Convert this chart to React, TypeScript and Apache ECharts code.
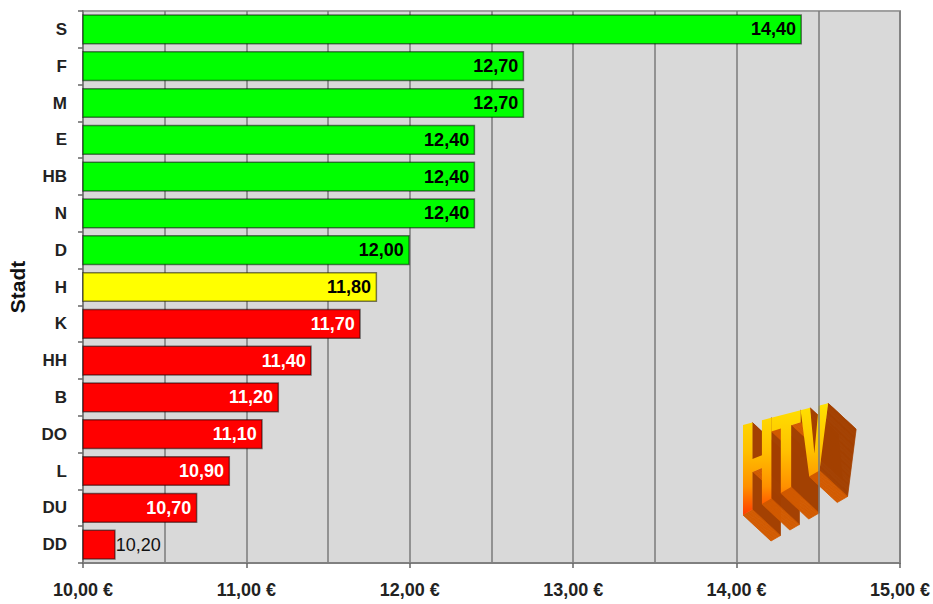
import React, { useEffect, useRef } from "react";
import * as echarts from "echarts";

const cities = ["S", "F", "M", "E", "HB", "N", "D", "H", "K", "HH", "B", "DO", "L", "DU", "DD"];
const prices = [14.4, 12.7, 12.7, 12.4, 12.4, 12.4, 12.0, 11.8, 11.7, 11.4, 11.2, 11.1, 10.9, 10.7, 10.2];
const groups = ["g", "g", "g", "g", "g", "g", "g", "y", "r", "r", "r", "r", "r", "r", "r"];
const axisMin = 10;
const axisMax = 15;
const axisStep = 1;

const fill: Record<string, string> = { g: "#00ff00", y: "#ffff00", r: "#ff0000" };
const labelColor: Record<string, string> = { g: "#000000", y: "#000000", r: "#ffffff" };
const FONT = "'Liberation Sans', Arial, sans-serif";

const fmt = (v: number) => v.toFixed(2).replace(".", ",");

// Logo letter outlines in a local (u: 0..100 across, v: 0..1 top->bottom) space
const letterH: number[][] = [[0, 0], [11, 0], [11, 0.42], [22, 0.42], [22, 0], [33, 0], [33, 1], [22, 1], [22, 0.57], [11, 0.57], [11, 1], [0, 1]];
const letterT: number[][] = [[33, 0], [67, 0], [67, 0.17], [56, 0.17], [56, 1], [44, 1], [44, 0.17], [33, 0.17]];
const letterV: number[][] = [[67, 0], [78, 0], [83, 0.7], [88, 0], [99, 0], [89, 1], [77, 1]];

function mapPt(u: number, v: number): number[] {
  const x = 743 + u * 0.86;
  const top = 425 - u * 0.22;
  const bottom = 515 - u * 0.5;
  return [x, top + v * (bottom - top)];
}

function buildLogo(): any[] {
  const off = [28, 26];
  const N = 28;
  const grad = new echarts.graphic.LinearGradient(
    0, 398, 0, 516,
    [
      { offset: 0, color: "#ffe600" },
      { offset: 0.45, color: "#ffc000" },
      { offset: 0.75, color: "#ff9000" },
      { offset: 1, color: "#ff3a00" },
    ],
    true
  );
  const letters = [letterH, letterT, letterV].map((poly) => poly.map(([u, v]) => mapPt(u, v)));
  // visible edges with their shade
  const edges: { a: number[]; b: number[]; color: string }[] = [];
  letters.forEach((pts) => {
    let area = 0;
    for (let i = 0; i < pts.length; i++) {
      const a = pts[i];
      const b = pts[(i + 1) % pts.length];
      area += a[0] * b[1] - b[0] * a[1];
    }
    const sgn = area > 0 ? 1 : -1;
    for (let i = 0; i < pts.length; i++) {
      const a = pts[i];
      const b = pts[(i + 1) % pts.length];
      const ex = b[0] - a[0];
      const ey = b[1] - a[1];
      let nx = ey * sgn;
      let ny = -ex * sgn;
      const len = Math.hypot(nx, ny) || 1;
      nx /= len;
      ny /= len;
      if (nx * off[0] + ny * off[1] <= 0) continue;
      const color = Math.abs(ny) > Math.abs(nx) ? "#d25a00" : "#a34000";
      edges.push({ a, b, color });
    }
  });
  const out: any[] = [];
  for (let k = N - 1; k >= 0; k--) {
    const d0 = k / N;
    const d1 = (k + 1) / N;
    edges.forEach(({ a, b, color }) => {
      out.push({
        type: "polygon",
        silent: true,
        shape: {
          points: [
            [a[0] + off[0] * d0, a[1] + off[1] * d0],
            [b[0] + off[0] * d0, b[1] + off[1] * d0],
            [b[0] + off[0] * d1, b[1] + off[1] * d1],
            [a[0] + off[0] * d1, a[1] + off[1] * d1],
          ],
        },
        style: { fill: color, stroke: color, lineWidth: 0.8 },
      });
    });
  }
  letters.forEach((pts) => {
    out.push({ type: "polygon", silent: true, shape: { points: pts }, style: { fill: grad } });
  });
  return out;
}

export default function App() {
  const ref = useRef<HTMLDivElement>(null);
  useEffect(() => {
    if (!ref.current) return;
    const chart = echarts.init(ref.current, null, { renderer: "svg" });

    const data = prices.map((v, i) => {
      const small = v - axisMin < 0.4;
      return {
        value: v,
        itemStyle: { color: fill[groups[i]] },
        label: small
          ? { position: "right", distance: 0, color: "#111", fontWeight: "normal" }
          : { position: "insideRight", distance: 6, color: labelColor[groups[i]], fontWeight: "bold" },
      };
    });

    chart.setOption({
      animation: false,
      grid: {
        left: 83,
        right: 33,
        top: 11,
        bottom: 41,
        outerBoundsMode: "none",
        containLabel: false,
        show: true,
        backgroundColor: "#d9d9d9",
        borderColor: "#a0a0a0",
        borderWidth: 2,
      },
      xAxis: {
        type: "value",
        min: axisMin,
        max: axisMax,
        interval: axisStep,
        axisLine: { show: true, lineStyle: { color: "#808080", width: 2 } },
        axisTick: { show: true, length: 5, lineStyle: { color: "#666", width: 1.5 } },
        axisLabel: {
          margin: 18,
          fontFamily: FONT,
          fontWeight: "bold",
          fontSize: 18,
          color: "#222",
          formatter: (v: number) => `${fmt(v)} €`,
        },
        splitLine: { show: true, lineStyle: { color: "#7a7a7a", width: 1.5 } },
        minorTick: { show: false, splitNumber: 2 },
        minorSplitLine: { show: true, lineStyle: { color: "#7a7a7a", width: 1.5 } },
      },
      yAxis: {
        type: "category",
        data: cities,
        inverse: true,
        name: "Stadt",
        nameLocation: "middle",
        nameGap: 55,
        nameRotate: 90,
        nameTextStyle: { fontFamily: FONT, fontWeight: "bold", fontSize: 21, color: "#111" },
        axisLine: { show: true, lineStyle: { color: "#808080", width: 2 } },
        axisTick: { show: true, length: 5, lineStyle: { color: "#666", width: 1.5 } },
        axisLabel: { margin: 16, fontFamily: FONT, fontWeight: "bold", fontSize: 17, color: "#222" },
        splitLine: { show: false },
      },
      series: [
        {
          type: "bar",
          data,
          barCategoryGap: "18%",
          itemStyle: { borderColor: "rgba(0,0,0,0.5)", borderWidth: 1.5 },
          label: {
            show: true,
            fontFamily: FONT,
            fontSize: 18,
            formatter: (p: any) => fmt(p.value),
          },
        },
      ],
      graphic: buildLogo(),
    });
    return () => chart.dispose();
  }, []);
  return <div ref={ref} style={{ width: 933, height: 604, position: "absolute", left: 0, top: 0 }} />;
}
